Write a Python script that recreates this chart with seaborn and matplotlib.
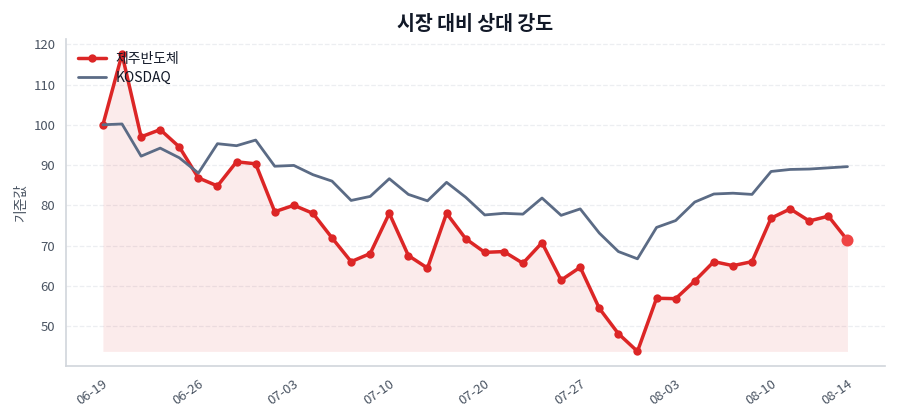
import numpy as np
import pandas as pd
import matplotlib
matplotlib.use("Agg")
import matplotlib.pyplot as plt
import seaborn as sns

# -----------------------------
# Data
# -----------------------------
dates = [
    "06-19", "06-22", "06-23", "06-24", "06-25", "06-26", "06-29", "06-30",
    "07-01", "07-02", "07-03", "07-06", "07-07", "07-08", "07-09", "07-10",
    "07-13", "07-14", "07-15", "07-16", "07-20", "07-21", "07-22", "07-23",
    "07-24", "07-27", "07-28", "07-29", "07-30", "07-31", "08-03", "08-04",
    "08-05", "08-06", "08-07", "08-10", "08-11", "08-12", "08-13", "08-14",
]
stock = [
    100.0, 117.5, 97.0, 98.8, 94.5, 86.8, 84.8, 90.8, 90.3, 78.4,
    80.0, 78.0, 71.9, 66.0, 68.0, 78.0, 67.5, 64.4, 78.0, 71.7,
    68.3, 68.5, 65.6, 70.7, 61.4, 64.6, 54.4, 48.1, 43.7, 56.9,
    56.8, 61.2, 66.0, 65.0, 66.0, 76.8, 79.1, 76.1, 77.3, 71.3,
]
kosdaq = [
    100.0, 100.2, 92.2, 94.2, 91.8, 88.0, 95.3, 94.8, 96.2, 89.7,
    89.9, 87.6, 86.0, 81.2, 82.2, 86.6, 82.7, 81.1, 85.7, 82.0,
    77.6, 78.0, 77.8, 81.8, 77.5, 79.1, 73.1, 68.5, 66.7, 74.5,
    76.2, 80.8, 82.8, 83.0, 82.7, 88.4, 88.9, 89.0, 89.3, 89.6,
]
tick_idx = [0, 5, 10, 15, 20, 25, 30, 35, 39]

# -----------------------------
# Style
# -----------------------------
sns.set_style("white")
plt.rcParams["font.family"] = ["Noto Sans CJK KR", "DejaVu Sans"]

RED = "#dc2626"
GRAY = "#5b6b85"
TXT = "#4b5563"

df = pd.DataFrame({"idx": np.arange(len(dates)), "date": dates,
                   "stock": stock, "kosdaq": kosdaq})

fig = plt.figure(figsize=(9, 4.2), dpi=100)
ax = fig.add_axes([0.073, 0.128, 0.910, 0.778])

ax.fill_between(df["idx"], df["stock"], df["stock"].min(),
                color=RED, alpha=0.09, linewidth=0)
sns.lineplot(data=df, x="idx", y="stock", ax=ax, color=RED, linewidth=2.5,
             marker="o", markersize=6, markeredgewidth=0, label="제주반도체")
sns.lineplot(data=df, x="idx", y="kosdaq", ax=ax, color=GRAY, linewidth=2,
             label="KOSDAQ")
ax.scatter([df["idx"].iloc[-1]], [df["stock"].iloc[-1]], s=75,
           color="#ef4444", zorder=5, linewidths=0)

ax.set_xticks(tick_idx)
ax.set_xticklabels([dates[i] for i in tick_idx], rotation=35, ha="right",
                   rotation_mode="anchor")
ax.set_yticks(range(50, 121, 10))
ax.tick_params(axis="both", colors=TXT, labelsize=9.5, length=4, width=1)
ax.tick_params(axis="x", pad=4)
ax.set_xlabel("")
ax.set_ylabel("기준값", color=TXT, fontsize=10)
ax.set_title("시장 대비 상대 강도", fontsize=14, fontweight="bold",
             color="#111827", pad=7)

ax.grid(axis="y", linestyle="--", color="#eceef1", linewidth=0.9)
ax.set_axisbelow(True)
for s in ["top", "right"]:
    ax.spines[s].set_visible(False)
for s in ["left", "bottom"]:
    ax.spines[s].set_color("#d1d5db")
    ax.spines[s].set_linewidth(1.2)
ax.tick_params(axis="both", color="#9ca3af")

leg = ax.legend(loc="upper left", frameon=False, fontsize=10,
                handlelength=2.0, handletextpad=0.7, labelspacing=0.35,
                borderaxespad=0.5, borderpad=0.4)
for t in leg.get_texts():
    t.set_color("#111827")

fig.savefig("out.png", dpi=100)
